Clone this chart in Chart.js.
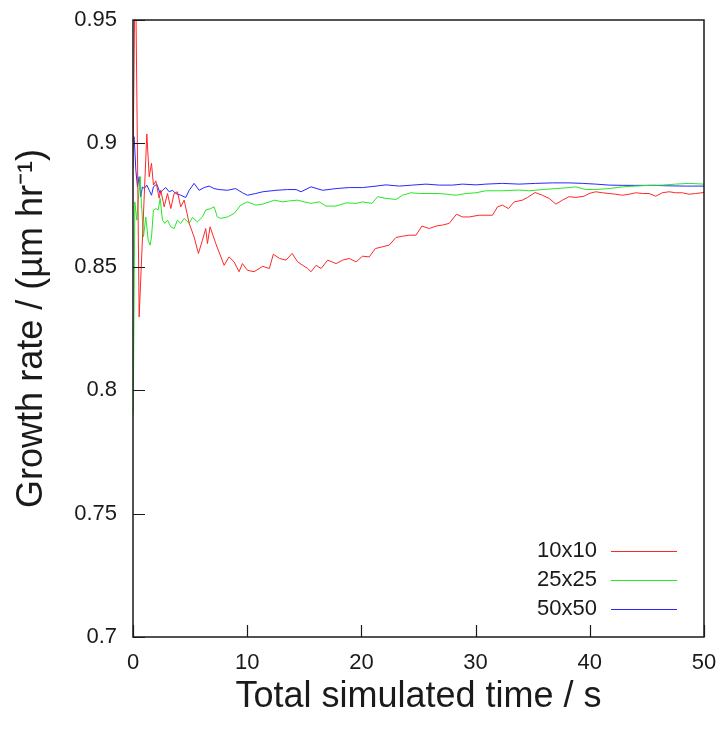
<!DOCTYPE html>
<html>
<head>
<meta charset="utf-8">
<title>Growth rate vs simulated time</title>
<script src="https://cdn.jsdelivr.net/npm/chart.js@4.4.1/dist/chart.umd.min.js"></script>
<style>
  html, body { margin: 0; padding: 0; background: #ffffff; }
  #myChart { display: block; }
</style>
</head>
<body>
<canvas id="myChart" width="721" height="731"></canvas>
<script>
  /* DATA */

  const seriesNames = ['10x10', '25x25', '50x50'];
  const seriesColors = ['rgb(255, 40, 40)', 'rgb(40, 230, 40)', 'rgb(40, 40, 255)'];

  const timeRed = [0, 0.2, 0.54, 1.21, 1.42, 1.62, 1.79, 2.0, 2.29, 2.43, 2.73, 3.02, 3.31, 3.6, 3.89, 4.18, 4.48, 4.92, 5.35, 5.73, 6.08, 6.37, 6.52, 6.75, 7.25, 7.98, 8.41, 8.85, 9.29, 9.58, 10.02, 10.6, 11.36, 11.94, 12.29, 12.82, 13.4, 13.93, 14.42, 14.86, 15.29, 15.59, 16.03, 16.47, 17.05, 17.78, 18.36, 18.94, 19.53, 20.1, 20.69, 21.22, 21.85, 22.44, 23.03, 23.6, 24.19, 24.78, 25.3, 25.94, 26.53, 27.1, 27.69, 28.33, 28.85, 29.44, 30.31, 31.48, 31.92, 32.35, 32.88, 33.38, 34.1, 34.54, 35.21, 35.85, 36.44, 37.03, 37.6, 38.19, 38.78, 39.5, 39.94, 40.52, 41.1, 41.69, 42.27, 42.85, 43.44, 44.02, 44.6, 45.19, 45.77, 46.35, 46.94, 47.52, 48.1, 48.69, 49.27, 50];
  const rateRed = [0.89, 0.98, 0.8297, 0.9038, 0.8865, 0.8919, 0.8831, 0.8848, 0.8778, 0.881, 0.8743, 0.8797, 0.8736, 0.8797, 0.8804, 0.8743, 0.877, 0.8676, 0.8621, 0.8554, 0.8608, 0.8655, 0.8594, 0.8662, 0.8594, 0.8506, 0.854, 0.852, 0.848, 0.8513, 0.8486, 0.848, 0.8502, 0.8493, 0.8551, 0.8534, 0.8527, 0.8554, 0.852, 0.8506, 0.8493, 0.848, 0.8506, 0.8493, 0.8527, 0.8513, 0.8527, 0.8534, 0.852, 0.8543, 0.854, 0.8574, 0.8581, 0.8588, 0.8619, 0.8624, 0.8628, 0.8628, 0.8665, 0.8655, 0.8665, 0.8669, 0.8676, 0.8713, 0.8702, 0.8702, 0.8709, 0.8709, 0.8743, 0.875, 0.8736, 0.8763, 0.877, 0.8781, 0.8801, 0.879, 0.8777, 0.8754, 0.877, 0.8784, 0.8781, 0.8786, 0.8797, 0.8804, 0.88, 0.8797, 0.8794, 0.879, 0.8794, 0.88, 0.8797, 0.8797, 0.8786, 0.88, 0.8804, 0.88, 0.88, 0.8794, 0.8797, 0.8801];

  const timeGreen = [0.02, 0.16, 0.33, 0.45, 0.63, 0.74, 0.92, 1.12, 1.33, 1.5, 1.62, 1.79, 2.0, 2.2, 2.38, 2.58, 2.78, 3.02, 3.31, 3.6, 3.89, 4.18, 4.48, 4.92, 5.2, 5.64, 6.08, 6.37, 6.81, 7.1, 7.39, 7.68, 8.27, 8.85, 9.43, 10.02, 10.75, 11.36, 12.38, 13.1, 13.69, 14.42, 15.0, 15.59, 16.32, 16.9, 17.78, 18.65, 19.53, 20.1, 20.93, 21.42, 22.15, 23.03, 23.6, 24.34, 25.07, 25.94, 26.82, 27.69, 28.28, 29.15, 30.03, 30.9, 32.35, 33.81, 34.69, 35.85, 37.03, 38.19, 38.78, 39.65, 40.52, 41.69, 42.85, 44.02, 45.19, 46.35, 47.52, 48.69, 50];
  const rateGreen = [0.79, 0.8763, 0.8689, 0.8763, 0.8865, 0.8757, 0.8621, 0.8702, 0.8608, 0.8588, 0.8621, 0.873, 0.8736, 0.873, 0.8777, 0.8689, 0.8676, 0.8689, 0.8662, 0.8655, 0.8689, 0.8676, 0.8696, 0.8676, 0.87, 0.8682, 0.8702, 0.873, 0.8736, 0.8743, 0.8702, 0.8696, 0.8702, 0.8716, 0.875, 0.8763, 0.875, 0.8754, 0.877, 0.8763, 0.8767, 0.877, 0.8763, 0.8757, 0.8763, 0.8746, 0.8746, 0.8759, 0.8757, 0.8763, 0.8757, 0.8784, 0.8777, 0.8773, 0.879, 0.88, 0.8797, 0.8797, 0.8797, 0.8793, 0.879, 0.8797, 0.88, 0.8808, 0.8808, 0.8811, 0.8808, 0.8813, 0.8817, 0.8821, 0.8824, 0.8813, 0.8813, 0.8817, 0.8824, 0.8827, 0.883, 0.8831, 0.8835, 0.8838, 0.8835];

  const timeBlue = [0, 0.1, 0.25, 0.39, 0.54, 0.68, 0.83, 0.98, 1.21, 1.42, 1.62, 1.79, 2.08, 2.38, 2.58, 2.87, 3.17, 3.46, 3.74, 4.18, 4.62, 4.92, 5.35, 5.79, 6.23, 6.67, 7.1, 7.54, 8.27, 8.99, 9.58, 10.02, 10.75, 11.36, 12.53, 13.54, 14.28, 14.72, 15.59, 16.61, 17.78, 18.94, 20.1, 21.28, 22.15, 23.32, 24.48, 25.65, 26.82, 27.98, 28.85, 30.03, 30.9, 32.35, 33.81, 35.27, 36.73, 38.19, 39.35, 40.52, 41.69, 42.85, 44.02, 45.48, 46.94, 48.4, 50];
  const rateBlue = [0.9013, 0.9027, 0.8892, 0.8824, 0.8865, 0.8784, 0.8824, 0.8817, 0.8831, 0.881, 0.879, 0.8824, 0.8835, 0.8797, 0.881, 0.8821, 0.8804, 0.881, 0.8797, 0.879, 0.8781, 0.881, 0.8838, 0.881, 0.8821, 0.8827, 0.8817, 0.8813, 0.881, 0.8817, 0.88, 0.879, 0.8797, 0.8804, 0.881, 0.8813, 0.8813, 0.8804, 0.8824, 0.881, 0.8817, 0.8821, 0.8821, 0.8827, 0.8832, 0.8827, 0.8831, 0.8835, 0.8831, 0.8831, 0.8835, 0.8832, 0.8835, 0.8838, 0.8835, 0.8838, 0.884, 0.884, 0.8838, 0.8835, 0.8831, 0.883, 0.883, 0.883, 0.8828, 0.8827, 0.8827];

  const xTicks = [0, 10, 20, 30, 40, 50];
  const yTicks = [0.7, 0.75, 0.8, 0.85, 0.9, 0.95];

  const FONT = 'Liberation Sans, Arial, sans-serif';
  const INK = '#1a1a1a';

  /* FUNCTION TO PAIR TIMES AND RATES */

  function toPoints(times, rates) {
    const points = [];
    for (let i = 0, j = times.length; i < j; i++) {
      points.push({ x: times[i], y: rates[i] });
    }
    return points;
  }

  /* FUNCTION TO STOP TICK LABELS FROM PUSHING THE PLOT AREA IN */

  function clearScalePadding(scale) {
    scale.paddingTop = 0;
    scale.paddingBottom = 0;
    scale.paddingLeft = 0;
    scale.paddingRight = 0;
  }

  /* PLUGIN: GNUPLOT STYLE BOX, INWARD TICKS AND LEGEND */

  const gnuplotFrame = {
    id: 'gnuplotFrame',
    beforeDraw(chart) {
      const ctx = chart.ctx;
      ctx.save();
      ctx.fillStyle = '#ffffff';
      ctx.fillRect(0, 0, chart.width, chart.height);
      ctx.restore();
    },
    afterDatasetsDraw(chart) {
      const ctx = chart.ctx;
      const area = chart.chartArea;
      const xs = chart.scales.x;
      const ys = chart.scales.y;
      const tickLen = 12;

      ctx.save();
      ctx.strokeStyle = INK;
      ctx.lineWidth = 1.5;
      ctx.strokeRect(area.left, area.top, area.right - area.left, area.bottom - area.top);

      ctx.lineWidth = 1.2;
      ctx.beginPath();
      xTicks.forEach((t) => {
        const px = Math.round(xs.getPixelForValue(t)) + 0.5;
        ctx.moveTo(px, area.bottom);
        ctx.lineTo(px, area.bottom - tickLen);
      });
      yTicks.forEach((t) => {
        const py = Math.round(ys.getPixelForValue(t)) + 0.5;
        ctx.moveTo(area.left, py);
        ctx.lineTo(area.left + tickLen, py);
      });
      ctx.stroke();

      // legend, text on the left and line sample on the right
      ctx.font = '22px ' + FONT;
      ctx.textAlign = 'right';
      ctx.textBaseline = 'middle';
      chart.data.datasets.forEach((ds, i) => {
        const y = 551 + i * 29;
        ctx.fillStyle = INK;
        ctx.fillText(ds.label, 597, y);
        ctx.strokeStyle = ds.borderColor;
        ctx.lineWidth = 1;
        ctx.beginPath();
        ctx.moveTo(611, y + 0.5);
        ctx.lineTo(677, y + 0.5);
        ctx.stroke();
      });
      ctx.restore();
    }
  };

  /* FUNCTION TO CREATE CHART */

  function initChart(target) {
    const allTimes = [timeRed, timeGreen, timeBlue];
    const allRates = [rateRed, rateGreen, rateBlue];

    const datasets = seriesNames.map((name, i) => ({
      label: name,
      data: toPoints(allTimes[i], allRates[i]),
      borderColor: seriesColors[i],
      borderWidth: 1,
      pointRadius: 0,
      tension: 0,
      fill: false
    }));

    return new Chart(target, {
      type: 'line',
      data: { datasets: datasets },
      options: {
        responsive: false,
        animation: false,
        events: [],
        layout: { autoPadding: false, padding: { left: 0, top: 20, right: 17, bottom: 0 } },
        plugins: {
          legend: { display: false },
          tooltip: { enabled: false }
        },
        scales: {
          x: {
            type: 'linear',
            min: 0,
            max: 50,
            afterBuildTicks: (scale) => { scale.ticks = xTicks.map((v) => ({ value: v })); },
            afterFit: (scale) => { scale.height = 94; clearScalePadding(scale); },
            grid: { display: false, drawTicks: false },
            border: { display: false },
            ticks: {
              color: INK,
              padding: 13,
              maxRotation: 0,
              font: { family: FONT, size: 22 }
            },
            title: {
              display: true,
              text: 'Total simulated time / s',
              color: INK,
              padding: { top: 0, bottom: 12 },
              font: { family: FONT, size: 36 }
            }
          },
          y: {
            type: 'linear',
            min: 0.7,
            max: 0.95,
            afterBuildTicks: (scale) => { scale.ticks = yTicks.map((v) => ({ value: v })); },
            afterFit: (scale) => { scale.width = 133; clearScalePadding(scale); },
            grid: { display: false, drawTicks: false },
            border: { display: false },
            ticks: {
              color: INK,
              padding: 16,
              font: { family: FONT, size: 22 },
              callback: (v) => String(+Number(v).toFixed(2))
            },
            title: {
              display: true,
              text: 'Growth rate / (µm hr⁻¹)',
              color: INK,
              padding: { top: 10, bottom: 0 },
              font: { family: FONT, size: 36 }
            }
          }
        }
      },
      plugins: [gnuplotFrame]
    });
  }

  function mainEvent() {
    const chartTarget = document.querySelector('#myChart');
    initChart(chartTarget);
  }

  document.addEventListener('DOMContentLoaded', () => mainEvent());
</script>
</body>
</html>
